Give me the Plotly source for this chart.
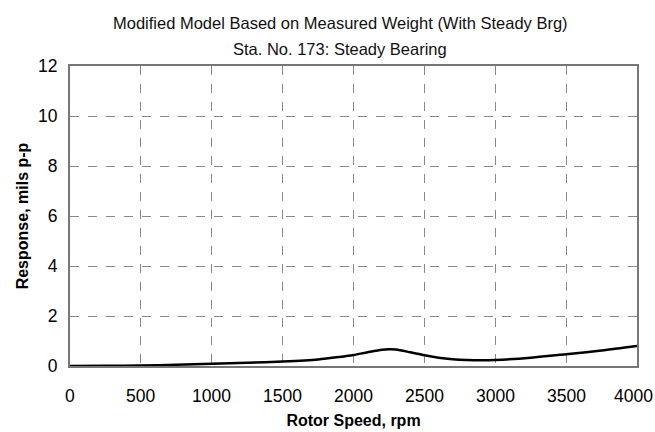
import plotly.graph_objects as go

# Rotor speed (rpm) and predicted response (mils p-p) at Sta. 173
rpm = [0, 250, 500, 750, 1000, 1250, 1500, 1750, 1900, 2000, 2100, 2200, 2250,
       2300, 2400, 2500, 2600, 2700, 2800, 2900, 3000, 3250, 3500, 3750, 4000]
response = [0.0, 0.01, 0.02, 0.05, 0.09, 0.13, 0.18, 0.26, 0.36, 0.44, 0.55, 0.65,
            0.67, 0.66, 0.55, 0.43, 0.33, 0.27, 0.24, 0.23, 0.24, 0.33, 0.47, 0.62, 0.80]

x_ticks = [0, 500, 1000, 1500, 2000, 2500, 3000, 3500, 4000]
y_ticks = [0, 2, 4, 6, 8, 10, 12]

title_lines = ["Modified Model Based on Measured Weight (With Steady Brg)",
               "Sta. No. 173: Steady Bearing"]

FONT = "Liberation Sans, Arial, sans-serif"
WIDTH, HEIGHT = 655, 432
PLOT_TOP, PLOT_BOTTOM, PLOT_LEFT, PLOT_RIGHT = 66, 366, 70, 637

fig = go.Figure()
fig.add_trace(go.Scatter(
    x=rpm, y=response, mode="lines",
    line=dict(color="black", width=2.5, shape="spline", smoothing=0.8),
    showlegend=False, hoverinfo="skip",
))

# two-line heading, one annotation per line
for text, ypx in zip(title_lines, [23, 49]):
    fig.add_annotation(
        text=text, xref="paper", yref="paper",
        x=(340 - PLOT_LEFT) / (PLOT_RIGHT - PLOT_LEFT),
        y=(PLOT_BOTTOM - ypx) / (PLOT_BOTTOM - PLOT_TOP),
        xanchor="center", yanchor="middle", showarrow=False,
        font=dict(family=FONT, size=16.5, color="#111"),
    )

# x tick labels as annotations; the last one is kept inside the page edge
for v in x_ticks:
    last = v == x_ticks[-1]
    fig.add_annotation(
        text=str(v), x=v, xref="x", y=-30 / (PLOT_BOTTOM - PLOT_TOP), yref="paper",
        xanchor="right" if last else "center",
        xshift=(WIDTH - PLOT_RIGHT) if last else 0,
        yanchor="middle", showarrow=False,
        font=dict(family=FONT, size=17.5, color="black"),
    )

fig.update_layout(
    width=WIDTH, height=HEIGHT,
    margin=dict(l=PLOT_LEFT, r=WIDTH - PLOT_RIGHT, t=PLOT_TOP, b=HEIGHT - PLOT_BOTTOM,
                autoexpand=False),
    paper_bgcolor="white", plot_bgcolor="white",
    font=dict(family=FONT, size=17, color="black"),
)

fig.update_xaxes(
    range=[0, 4000], tickvals=x_ticks, showticklabels=False,
    showgrid=True, gridcolor="#888", griddash="dash", gridwidth=1,
    showline=True, linecolor="#777", linewidth=2, mirror=True,
    ticks="", zeroline=False, automargin=False,
    title=dict(text="<b>Rotor Speed, rpm</b>", standoff=48,
               font=dict(family=FONT, size=16)),
)
fig.update_yaxes(
    range=[0, 12], tickvals=y_ticks, ticktext=[str(v) for v in y_ticks],
    showgrid=True, gridcolor="#888", griddash="dash", gridwidth=1,
    showline=True, linecolor="#777", linewidth=2, mirror=True,
    ticks="", ticklabelstandoff=7, zeroline=False, automargin=False,
    tickfont=dict(family=FONT, size=17.5),
    title=dict(text="<b>Response, mils p-p</b>", standoff=5,
               font=dict(family=FONT, size=16)),
)

fig.write_html("out.html")
